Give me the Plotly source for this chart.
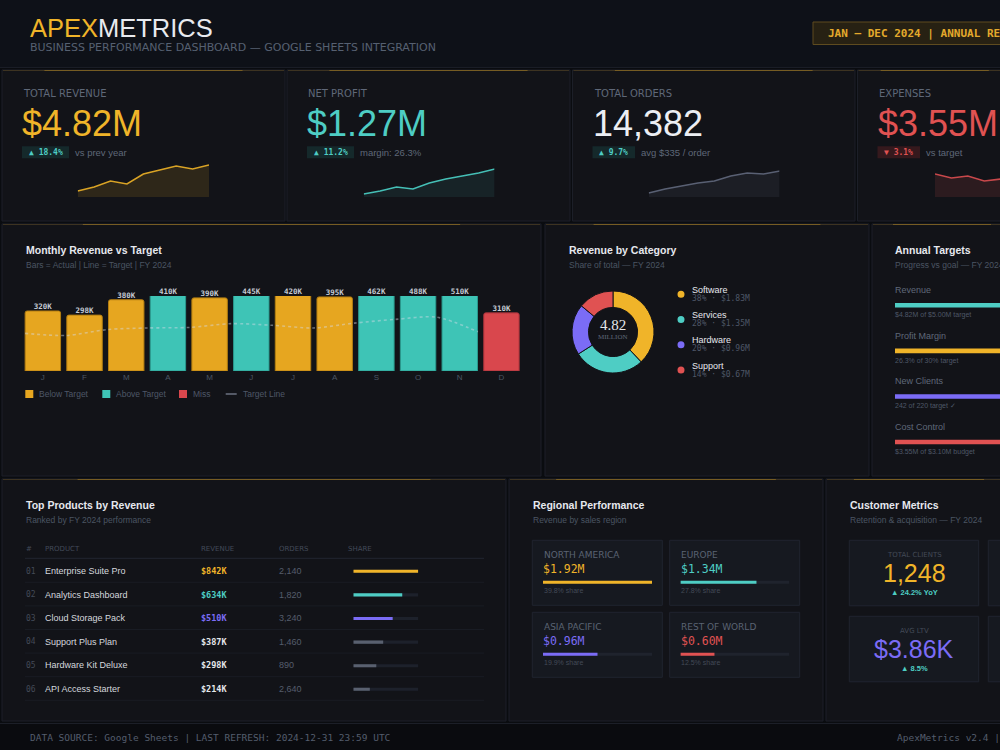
import plotly.graph_objects as go

W, H = 1000, 750


def px(x):
    return x / W


def py(y):
    return 1 - y / H


SANS = "Liberation Sans, Arial, sans-serif"
WIDE = "DejaVu Sans, sans-serif"
MONO = "DejaVu Sans Mono, monospace"
SERIF = "Liberation Serif, serif"

GOLD = "#f0b429"
TEAL = "#4ecdc4"
PURPLE = "#7b6cf6"
RED = "#e05252"
WHITE = "#e6e8ee"
GREY = "#6b7280"
DIM = "#4b5563"
PAGE = "#0a0c10"
CARD = "#121318"
BORDER = "#1c1f28"
TILE = "#161920"
TILE_BORDER = "#20242f"

# ---------------- DATA ----------------
kpi_labels = ["TOTAL REVENUE", "NET PROFIT", "TOTAL ORDERS", "EXPENSES"]
kpi_values = ["$4.82M", "$1.27M", "14,382", "$3.55M"]
kpi_changes = ["▲ 18.4%", "▲ 11.2%", "▲ 9.7%", "▼ 3.1%"]
kpi_notes = ["vs prev year", "margin: 26.3%", "avg $335 / order", "vs target"]

spark_revenue = [6, 10, 16, 13, 23, 27, 31, 28, 32]
spark_profit = [3, 6, 10, 8, 14, 18, 21, 24, 28]
spark_orders = [4, 8, 11, 14, 16, 21, 24, 23, 26]
spark_expenses = [23, 19, 21, 16, 18, 15, 16, 13, 12]

months = ["J", "F", "M", "A", "M", "J", "J", "A", "S", "O", "N", "D"]
monthly_actual = [320, 298, 380, 410, 390, 445, 420, 395, 462, 488, 510, 310]
monthly_target = [350, 330, 385, 400, 405, 440, 425, 400, 445, 480, 500, 365]
monthly_status = ["below", "below", "below", "above", "below", "above",
                  "below", "below", "above", "above", "above", "miss"]

category_names = ["Software", "Services", "Hardware", "Support"]
category_share = [38, 28, 20, 14]
category_revenue = [1.83, 1.35, 0.96, 0.67]
category_total = 4.82

target_names = ["Revenue", "Profit Margin", "New Clients", "Cost Control"]
target_actual = [4.82, 26.3, 242, 3.55]
target_goal = [5.00, 30, 220, 3.10]
target_notes = ["$4.82M of $5.00M target", "26.3% of 30% target",
                "242 of 220 target ✓", "$3.55M of $3.10M budget"]

product_names = ["Enterprise Suite Pro", "Analytics Dashboard", "Cloud Storage Pack",
                 "Support Plus Plan", "Hardware Kit Deluxe", "API Access Starter"]
product_revenue = [842, 634, 510, 387, 298, 214]
product_orders = [2140, 1820, 3240, 1460, 890, 2640]

region_names = ["NORTH AMERICA", "EUROPE", "ASIA PACIFIC", "REST OF WORLD"]
region_revenue = [1.92, 1.34, 0.96, 0.60]
region_share = [39.8, 27.8, 19.9, 12.5]

customer_labels = ["TOTAL CLIENTS", "AVG LTV"]
customer_values = ["1,248", "$3.86K"]
customer_changes = ["▲ 24.2% YoY", "▲ 8.5%"]

# ---------------- HELPERS ----------------
shapes = []
annotations = []
layout = dict(width=W, height=H, margin=dict(l=0, r=0, t=0, b=0),
              paper_bgcolor=PAGE, plot_bgcolor="rgba(0,0,0,0)",
              showlegend=False, barmode="overlay", hovermode=False)
fig = go.Figure()


def rect(x0, y0, x1, y1, fill, line=None, lw=1, layer="below"):
    shapes.append(dict(type="rect", xref="paper", yref="paper", layer=layer,
                       x0=px(x0), x1=px(x1), y0=py(y1), y1=py(y0), fillcolor=fill,
                       line=dict(color=line if line else "rgba(0,0,0,0)",
                                 width=lw if line else 0)))


def hline(x0, x1, y, color, w=1, layer="below"):
    shapes.append(dict(type="line", xref="paper", yref="paper", layer=layer,
                       x0=px(x0), x1=px(x1), y0=py(y), y1=py(y),
                       line=dict(color=color, width=w)))


def circle(cx, cy, r, color):
    shapes.append(dict(type="circle", xref="paper", yref="paper", layer="above",
                       x0=px(cx - r), x1=px(cx + r), y0=py(cy + r), y1=py(cy - r),
                       fillcolor=color, line=dict(width=0)))


def T(x, y, text, size, color, family=SANS, anchor="left", bold=False):
    annotations.append(dict(xref="paper", yref="paper", x=px(x), y=py(y),
                            text=f"<b>{text}</b>" if bold else text, showarrow=False,
                            xanchor=anchor, yanchor="middle", borderpad=0,
                            font=dict(size=size, color=color, family=family)))


def card(x0, y0, x1, y1):
    rect(x0, y0, x1, y1, CARD, BORDER, 1)
    hline(x0 + 1, x1 - 1, y0 + 0.5, "rgba(240,180,41,0.18)", 1)
    hline(x0 + (x1 - x0) * 0.15, x0 + (x1 - x0) * 0.85, y0 + 0.5, "rgba(240,180,41,0.32)", 1)


def names(i):
    return ("x" if i == 1 else f"x{i}", "y" if i == 1 else f"y{i}",
            "xaxis" if i == 1 else f"xaxis{i}", "yaxis" if i == 1 else f"yaxis{i}")


def add_axes(i, xpx, ypx, xr, yr, xextra=None, yextra=None):
    xn, yn, xk, yk = names(i)
    base = dict(visible=False, fixedrange=True, showgrid=False, zeroline=False)
    xa = dict(base, domain=[px(xpx[0]), px(xpx[1])], range=xr, anchor=yn)
    ya = dict(base, domain=[py(ypx[1]), py(ypx[0])], range=yr, anchor=xn)
    if xextra:
        xa.update(xextra)
    if yextra:
        ya.update(yextra)
    layout[xk] = xa
    layout[yk] = ya
    return xn, yn


# ---------------- HEADER ----------------
rect(0, 0, 1000, 67, "#0e1118")
hline(0, 1000, 67.5, "#1a1d26")
T(28.5, 28, "<span style='color:#f0b429'>APEX</span>METRICS", 25.5, "#e8eaef")
T(29, 47.5, "BUSINESS PERFORMANCE DASHBOARD — GOOGLE SHEETS INTEGRATION", 11, "#566071", WIDE)
rect(813, 22, 1012, 44.5, "#272113", "#5e4b1f", 1)
T(827, 33.5, "JAN – DEC 2024 | ANNUAL REPORT", 11, "#e3a92c", MONO, bold=True)

# ---------------- KPI CARDS ----------------
kpi_left = [2, 287, 572.5, 857.5]
kpi_right = [285, 570, 855, 1012]
kpi_colors = [GOLD, TEAL, "#eceef3", RED]
badge_w = [47, 47, 42.5, 42.5]
badge_bg = ["#15292b", "#15292b", "#15292b", "#35191d"]
badge_fg = [TEAL, TEAL, TEAL, RED]
spark_sets = [spark_revenue, spark_profit, spark_orders, spark_expenses]
spark_line = ["#d9a325", "#45bfb6", "#596073", "#c8484b"]
spark_fill = ["rgba(240,180,41,0.13)", "rgba(78,205,196,0.09)",
              "rgba(90,98,118,0.14)", "rgba(224,82,82,0.13)"]
spark_dom = [(77.7, 209), (363.7, 494.3), (648.7, 779.3), (935, 1000)]

for i in range(4):
    x0 = kpi_left[i]
    cx = x0 + 20
    card(x0, 70, kpi_right[i], 221)
    T(cx, 94, kpi_labels[i], 10, "#5f6878", WIDE)
    T(cx - 1, 123.5, kpi_values[i], 36, kpi_colors[i])
    rect(cx, 146.3, cx + badge_w[i], 158.3, badge_bg[i])
    T(cx + badge_w[i] / 2, 152.5, kpi_changes[i], 8, badge_fg[i], MONO, "center", bold=True)
    T(cx + badge_w[i] + 5, 152.8, kpi_notes[i], 9.5, "#5f6878")
    vals = spark_sets[i]
    d0, d1 = spark_dom[i]
    step = (209 - 77.7) / (len(vals) - 1)
    xr = [0, (d1 - d0) / step]
    xn, yn = add_axes(i + 1, (d0, d1), (164, 197), xr, [0, 33])
    fig.add_trace(go.Scatter(x=list(range(len(vals))), y=vals, mode="lines",
                             line=dict(color=spark_line[i], width=1.6),
                             fill="tozeroy", fillcolor=spark_fill[i],
                             xaxis=xn, yaxis=yn, hoverinfo="skip"))

# ---------------- MONTHLY REVENUE ----------------
card(2, 224, 541, 476)
T(25, 249.5, "Monthly Revenue vs Target", 10.5, WHITE, bold=True)
T(25, 264.5, "Bars = Actual | Line = Target | FY 2024", 8.5, DIM)

Y_CAP = 400
status_fill = {"below": "#e6a620", "above": "#3ec4b6", "miss": "#d9474d"}
status_edge = {"below": "#b37d10", "above": "#2a9a8e", "miss": "#a3323a"}
xn, yn = add_axes(5, (22, 522.3), (296, 371), [-0.5, 11.5], [0, Y_CAP],
                  xextra=dict(visible=True, showline=False, ticks="", tickmode="array",
                              tickvals=list(range(12)), ticktext=months,
                              tickfont=dict(size=8, color=DIM, family=SANS)))
idx = list(range(len(months)))
fig.add_trace(go.Bar(x=idx, y=monthly_actual, width=0.85,
                     marker=dict(color=[status_fill[s] for s in monthly_status],
                                 line=dict(color=[status_edge[s] for s in monthly_status], width=1),
                                 cornerradius=2),
                     xaxis=xn, yaxis=yn, hoverinfo="skip"))
fig.add_trace(go.Scatter(x=idx, y=[min(v, Y_CAP) for v in monthly_actual],
                         text=[f"{v}K" for v in monthly_actual], mode="text",
                         textposition="top center", cliponaxis=False,
                         textfont=dict(family=MONO, size=7.5, color="#c5cad3", weight=700),
                         xaxis=xn, yaxis=yn, hoverinfo="skip"))
layout["xaxis6"] = dict(visible=False, overlaying="x5", anchor="y5", fixedrange=True,
                        range=[-0.073, 12.078])
layout["yaxis6"] = dict(visible=False, overlaying="y5", anchor="x5", fixedrange=True,
                        range=[0, 697])
fig.add_trace(go.Scatter(x=idx, y=monthly_target, mode="lines",
                         line=dict(color="rgba(215,220,230,0.45)", width=1.6, dash="dot",
                                   shape="spline", smoothing=0.8),
                         xaxis="x6", yaxis="y6", hoverinfo="skip"))
# legend
leg = [("Below Target", status_fill["below"], 25.3), ("Above Target", status_fill["above"], 102.3),
       ("Miss", status_fill["miss"], 179)]
for name, col, lx in leg:
    rect(lx, 390, lx + 8, 398, col, layer="above")
    T(lx + 13, 394, name, 8.5, "#4e5767")
hline(225.7, 236.7, 394, "#6b7280", 1.5, layer="above")
T(241.7, 394, "Target Line", 8.5, "#4e5767")

# ---------------- REVENUE BY CATEGORY ----------------
card(545, 224, 869, 476)
T(568, 249.5, "Revenue by Category", 10.5, WHITE, bold=True)
T(568, 264.5, "Share of total — FY 2024", 8.5, DIM)
cat_colors = [GOLD, TEAL, PURPLE, RED]
fig.add_trace(go.Pie(values=category_share, labels=category_names, hole=0.6, sort=False,
                     direction="clockwise", rotation=0, textinfo="none",
                     marker=dict(colors=cat_colors, line=dict(color=CARD, width=1)),
                     domain=dict(x=[px(572), px(654)], y=[py(373), py(291)]),
                     hoverinfo="skip", showlegend=False))
T(613, 325, f"{category_total:.2f}", 15, "#e5e7eb", SERIF, "center")
T(613, 336.5, "MILLION", 7, "#5f6878", SERIF, "center")
for i, name in enumerate(category_names):
    base = 290 + 25.25 * i
    circle(681, base + 4.3, 3.5, cat_colors[i])
    T(691, base, name, 9, WHITE)
    T(691, base + 8.3, f"{category_share[i]}% · ${category_revenue[i]:.2f}M", 8, "#4e5767", MONO)

# ---------------- ANNUAL TARGETS ----------------
card(872, 224, 1012, 476)
T(894, 249.5, "Annual Targets", 10.5, WHITE, bold=True)
T(894, 264.5, "Progress vs goal — FY 2024", 8.5, DIM)
for i, name in enumerate(target_names):
    T(894, 290 + 45.67 * i, name, 9, "#5f6878")
    T(894, 315 + 45.67 * i, target_notes[i], 7, "#4e5767")
target_progress = [min(a / g, 1.0) for a, g in zip(target_actual, target_goal)]
xn, yn = add_axes(7, (895, 1000), (282.5, 464.8), [0, 0.376], [3.5, -0.5],
                  yextra=dict(type="category", categoryorder="array", categoryarray=target_names))
fig.add_trace(go.Bar(y=target_names, x=target_progress, orientation="h", width=0.1,
                     marker=dict(color=[TEAL, GOLD, PURPLE, RED], line=dict(width=0)),
                     xaxis=xn, yaxis=yn, hoverinfo="skip"))

# ---------------- TOP PRODUCTS ----------------
card(2, 479, 506, 721)
T(25, 504.5, "Top Products by Revenue", 10.5, WHITE, bold=True)
T(25, 519.5, "Ranked by FY 2024 performance", 8.5, DIM)
for label, hx in [("#", 25), ("PRODUCT", 44), ("REVENUE", 200), ("ORDERS", 278), ("SHARE", 347)]:
    T(hx, 549, label, 7, "#424a58", WIDE)
hline(25, 484, 558.3, "#222631")
rev_colors = [GOLD, TEAL, PURPLE, "#e5e7eb", "#e5e7eb", "#e5e7eb"]
share_colors = [GOLD, TEAL, PURPLE, "#59606f", "#59606f", "#59606f"]
for i, name in enumerate(product_names):
    ry = 571 + 23.6 * i
    T(25, ry, f"{i + 1:02d}", 8, "#434a57", MONO)
    T(44, ry, name, 9, "#d5d8de")
    T(200, ry, f"${product_revenue[i]}K", 8.5, rev_colors[i], MONO, bold=True)
    T(278, ry, f"{product_orders[i]:,}", 9, "#555d6c")
    hline(25, 484, 582.3 + 23.6 * i, "#191c24")
xn, yn = add_axes(8, (353.3, 418.3), (559.5, 701.1), [0, max(product_revenue)], [5.5, -0.5],
                  yextra=dict(type="category", categoryorder="array", categoryarray=product_names))
fig.add_trace(go.Bar(y=product_names, x=[max(product_revenue)] * len(product_names),
                     orientation="h", width=0.13, marker=dict(color="#1d212b", line=dict(width=0)),
                     xaxis=xn, yaxis=yn, hoverinfo="skip"))
fig.add_trace(go.Bar(y=product_names, x=product_revenue, orientation="h", width=0.13,
                     marker=dict(color=share_colors, line=dict(width=0)),
                     xaxis=xn, yaxis=yn, hoverinfo="skip"))

# ---------------- REGIONAL PERFORMANCE ----------------
card(509, 479, 823, 721)
T(532, 504.5, "Regional Performance", 10.5, WHITE, bold=True)
T(532, 519.5, "Revenue by sales region", 8.5, DIM)
reg_colors = [GOLD, TEAL, PURPLE, RED]
tile_x = [532.3, 669.7]
tile_y = [540.3, 612.3]
for i, name in enumerate(region_names):
    tx = tile_x[i % 2]
    ty = tile_y[i // 2]
    rect(tx, ty, tx + 130, ty + 65, TILE, TILE_BORDER, 1)
    T(tx + 10.5, ty + 14.7, name, 9, "#5a6373", WIDE)
    T(tx + 10, ty + 28.6, f"${region_revenue[i]:.2f}M", 11.5, reg_colors[i], MONO)
    T(tx + 10.5, ty + 50.4, f"{region_share[i]}% share", 7, "#434a57")
    xn, yn = add_axes(9 + i, (tx + 10.7, tx + 119.7), (ty + 37, ty + 47), [0, max(region_revenue)], [-1, 1])
    fig.add_trace(go.Bar(y=[0], x=[max(region_revenue)], orientation="h", width=0.6,
                         marker=dict(color="#1f232d", line=dict(width=0)),
                         xaxis=xn, yaxis=yn, hoverinfo="skip"))
    fig.add_trace(go.Bar(y=[0], x=[region_revenue[i]], orientation="h", width=0.6,
                         marker=dict(color=reg_colors[i], line=dict(width=0)),
                         xaxis=xn, yaxis=yn, hoverinfo="skip"))

# ---------------- CUSTOMER METRICS ----------------
card(826, 479, 1012, 721)
T(849, 504.5, "Customer Metrics", 10.5, WHITE, bold=True)
T(849, 519.5, "Retention &amp; acquisition — FY 2024", 8.5, DIM)
cust_colors = [GOLD, PURPLE]
cust_y = [540.3, 616.3]
for i, lab in enumerate(customer_labels):
    ty = cust_y[i]
    rect(849.3, ty, 978.7, ty + 65.5, TILE, TILE_BORDER, 1)
    rect(988.3, ty, 1117.7, ty + 65.5, TILE, TILE_BORDER, 1)
    T(914, ty + 15, lab, 7, "#434a57", WIDE, anchor="center")
    T(914, ty + 33, customer_values[i], 25, cust_colors[i], anchor="center")
    T(914, ty + 52.5, customer_changes[i], 7.5, TEAL, anchor="center", bold=True)

# ---------------- FOOTER ----------------
rect(0, 723, 1000, 750, "#0a0b0f")
hline(0, 1000, 723.5, "#1c1f28")
T(29, 737, "DATA SOURCE: Google Sheets | LAST REFRESH: 2024-12-31 23:59 UTC", 9.5, "#545d6d", MONO)
T(896, 737, "ApexMetrics v2.4 |", 9.5, "#545d6d", MONO)

layout["shapes"] = shapes
layout["annotations"] = annotations
fig.update_layout(**layout)
fig.write_html("out.html")
